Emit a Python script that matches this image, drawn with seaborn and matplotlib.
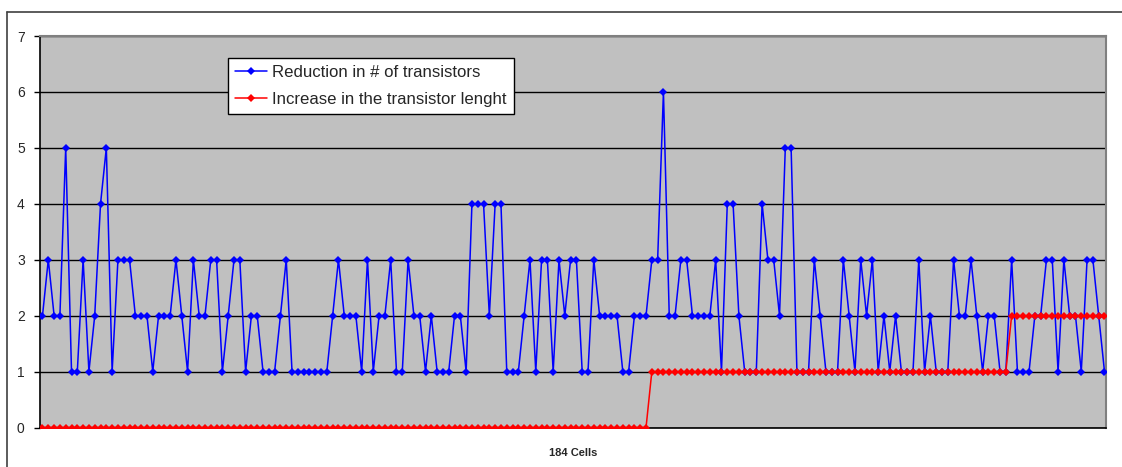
import matplotlib
matplotlib.use("Agg")
import matplotlib.pyplot as plt
from matplotlib.lines import Line2D
import seaborn as sns
import pandas as pd

# Per-cell values for the 184 cells
reduction = [
    2, 3, 2, 2, 5, 1, 1, 3, 1, 2, 4, 5, 1, 3, 3, 3, 2, 2, 2, 1, 2, 2, 2, 3,
    2, 1, 3, 2, 2, 3, 3, 1, 2, 3, 3, 1, 2, 2, 1, 1, 1, 2, 3, 1, 1, 1, 1,
    1, 1, 1, 2, 3, 2, 2, 2, 1, 3, 1, 2, 2, 3, 1, 1, 3, 2, 2, 1, 2, 1, 1,
    1, 2, 2, 1, 4, 4, 4, 2, 4, 4, 1, 1, 1, 2, 3, 1, 3, 3, 1, 3, 2, 3, 3, 1, 1,
    3, 2, 2, 2, 2, 1, 1, 2, 2, 2, 3, 3, 6, 2, 2, 3, 3, 2, 2, 2, 2, 3,
    1, 4, 4, 2, 1, 1, 1, 4, 3, 3, 2, 5, 5, 1, 1, 1, 3, 2, 1, 1, 1, 3, 2,
    1, 3, 2, 3, 1, 2, 1, 2, 1, 1, 1, 3, 1, 2, 1, 1, 1, 3, 2, 2, 3, 2, 1,
    2, 2, 1, 1, 3, 1, 1, 1, 2, 2, 3, 3, 1, 3, 2, 2, 1, 3, 3, 2, 1,
]
length_increase = [0] * 105 + [1] * 62 + [2] * 17
cells = list(range(len(reduction)))

label_reduction = "Reduction in # of transistors"
label_length = "Increase in the transistor lenght"
x_label = "184 Cells"
y_ticks = [0, 1, 2, 3, 4, 5, 6, 7]

df = pd.DataFrame({"cell": cells, "reduction": reduction, "length": length_increase})

sns.set_style("white")
plt.rcParams["font.family"] = ["Liberation Sans", "DejaVu Sans"]

W, H = 1122, 467
fig = plt.figure(figsize=(W / 100, H / 100), dpi=100)
fig.patch.set_facecolor("white")

left, right, top, bottom = 40, 1106, 36, 427.5
ax = fig.add_axes([left / W, 1 - bottom / H, (right - left) / W, (bottom - top) / H])
ax.set_facecolor("#C0C0C0")

sns.lineplot(data=df, x="cell", y="reduction", ax=ax, color="#0000FF",
             marker="D", markersize=4.5, markeredgewidth=0, linewidth=1.1,
             label=label_reduction, zorder=3)
sns.lineplot(data=df, x="cell", y="length", ax=ax, color="#FF0000",
             marker="D", markersize=4.5, markeredgewidth=0, linewidth=1.1,
             label=label_length, zorder=4)

ax.set_xlim(-0.43, 183.26)
ax.set_ylim(0, 7)
ax.set_yticks(y_ticks)
ax.set_yticklabels([str(v) for v in y_ticks], fontsize=10)
ax.set_xticks([])
ax.yaxis.grid(True, color="black", linewidth=1.0)
ax.set_axisbelow(True)
ax.tick_params(axis="y", which="both", left=True, length=4, width=1,
               color="black", pad=7)

for side in ("top", "right"):
    ax.spines[side].set_color("#808080")
    ax.spines[side].set_linewidth(1.5)
for side in ("left", "bottom"):
    ax.spines[side].set_color("black")
    ax.spines[side].set_linewidth(1.2)

ax.set_xlabel(x_label, fontsize=8, fontweight="bold", labelpad=15)
ax.set_ylabel("")

leg = ax.legend(loc="upper left", bbox_to_anchor=((228 - left) / (right - left),
                                                  (bottom - 58) / (bottom - top)),
                borderaxespad=0, frameon=True, fancybox=False, fontsize=12.1,
                handlelength=1.9, handletextpad=0.3, borderpad=0.42,
                labelspacing=0.7, framealpha=1)
leg.get_frame().set_edgecolor("black")
leg.get_frame().set_linewidth(1.0)
leg.get_frame().set_facecolor("white")

# Outer chart frame
fig.add_artist(Line2D([7 / W, 1.0], [1 - 12 / H, 1 - 12 / H], transform=fig.transFigure,
                      color="#404040", linewidth=1.2))
fig.add_artist(Line2D([7 / W, 7 / W], [0.0, 1 - 12 / H], transform=fig.transFigure,
                      color="#404040", linewidth=1.2))

fig.savefig("out.png", dpi=100)
